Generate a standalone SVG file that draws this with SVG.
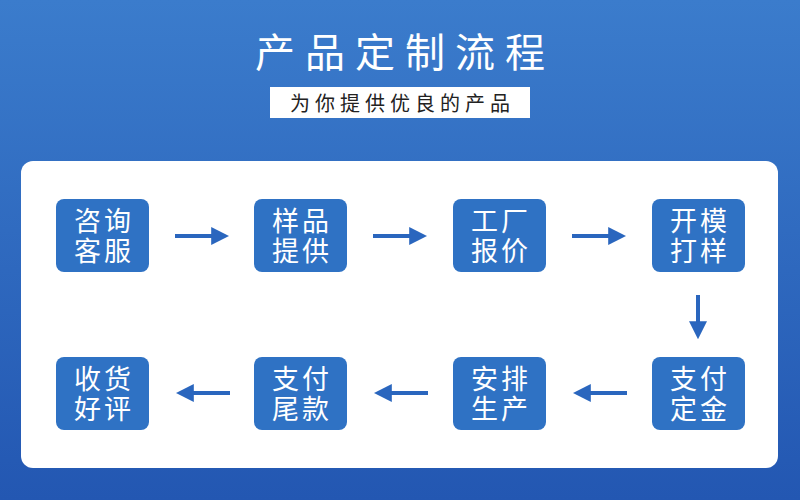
<svg xmlns="http://www.w3.org/2000/svg" width="800" height="500" viewBox="0 0 800 500">
<defs>
<linearGradient id="bg" x1="0" y1="0" x2="0" y2="1">
<stop offset="0" stop-color="#3B7CCC"/>
<stop offset="1" stop-color="#2357B2"/>
</linearGradient>
<marker id="ah" viewBox="0 0 10 10" refX="1" refY="5" markerWidth="4.5" markerHeight="4.5" orient="auto">
<path d="M0,0 L10,5 L0,10 z" fill="#2A66BE"/>
</marker>
<style>
.node rect{fill:#2F72C4}
.node text{fill:#fff;font-family:"Liberation Sans","Noto Sans CJK SC",sans-serif;font-size:27px;letter-spacing:3px;text-anchor:middle}
.conn line{stroke:#2A66BE;stroke-width:4;marker-end:url(#ah)}
</style>
</defs>
<rect width="800" height="500" fill="url(#bg)"/>
<text x="405" y="67" fill="#fff" font-family="'Liberation Sans','Noto Sans CJK SC',sans-serif" font-size="40" letter-spacing="10" text-anchor="middle">产品定制流程</text>
<rect x="270" y="87" width="260" height="31" fill="#fff"/>
<text x="402.5" y="111" fill="#222" font-family="'Liberation Sans','Noto Sans CJK SC',sans-serif" font-size="20" letter-spacing="5" text-anchor="middle">为你提供优良的产品</text>
<rect x="21" y="161" width="757" height="307" rx="12" fill="#fff"/>
<g id="n1" class="node"><rect x="56" y="199" width="93" height="73" rx="8"/><text x="104" y="231">咨询</text><text x="104" y="261">客服</text></g>
<g id="n2" class="node"><rect x="254" y="199" width="93" height="73" rx="8"/><text x="302" y="231">样品</text><text x="302" y="261">提供</text></g>
<g id="n3" class="node"><rect x="453" y="199" width="93" height="73" rx="8"/><text x="501" y="231">工厂</text><text x="501" y="261">报价</text></g>
<g id="n4" class="node"><rect x="652" y="199" width="93" height="73" rx="8"/><text x="700" y="231">开模</text><text x="700" y="261">打样</text></g>
<g id="n5" class="node"><rect x="652" y="357" width="93" height="73" rx="8"/><text x="700" y="389">支付</text><text x="700" y="419">定金</text></g>
<g id="n6" class="node"><rect x="453" y="357" width="93" height="73" rx="8"/><text x="501" y="389">安排</text><text x="501" y="419">生产</text></g>
<g id="n7" class="node"><rect x="254" y="357" width="93" height="73" rx="8"/><text x="302" y="389">支付</text><text x="302" y="419">尾款</text></g>
<g id="n8" class="node"><rect x="56" y="357" width="93" height="73" rx="8"/><text x="104" y="389">收货</text><text x="104" y="419">好评</text></g>
<g id="connectors" class="conn">
<line x1="175" y1="236" x2="213" y2="236"/>
<line x1="373" y1="236" x2="411" y2="236"/>
<line x1="572" y1="236" x2="610" y2="236"/>
<line x1="698" y1="295" x2="698" y2="323"/>
<line x1="627" y1="393" x2="589" y2="393"/>
<line x1="428" y1="393" x2="390" y2="393"/>
<line x1="230" y1="393" x2="192" y2="393"/>
</g>
</svg>
